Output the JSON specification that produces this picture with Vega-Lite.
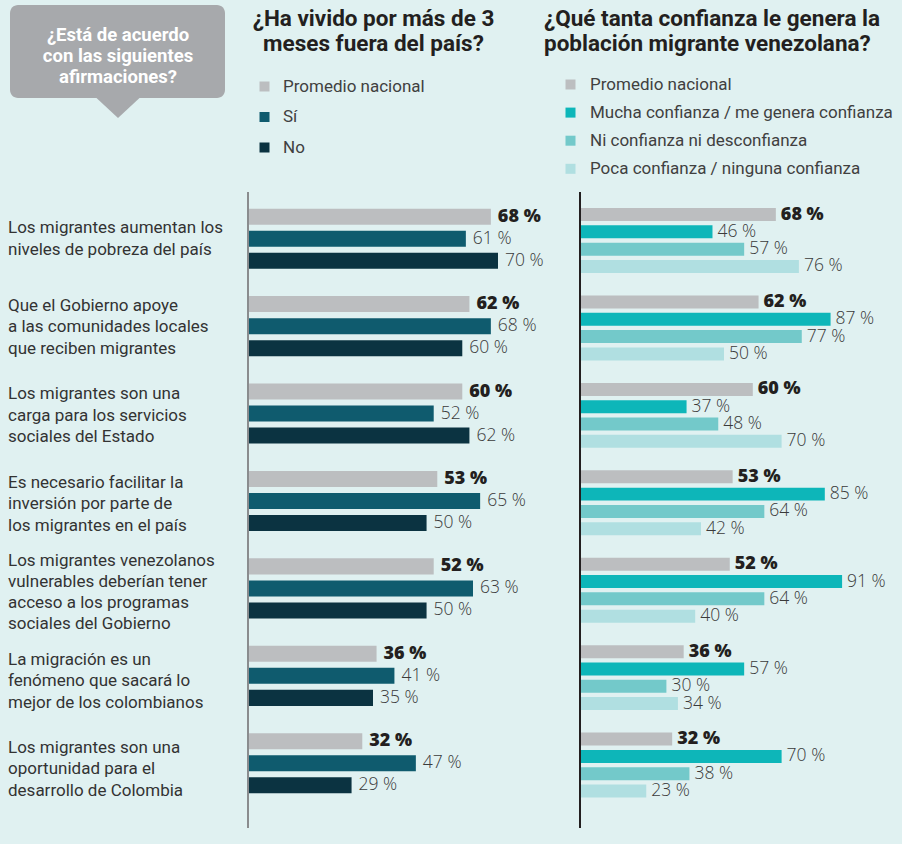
{
  "$schema": "https://vega.github.io/schema/vega-lite/v6.json",
  "background": "#e0f1f1",
  "padding": {"left": 8, "top": 5, "right": 0, "bottom": 16},
  "spacing": 0,
  "config": {"view": {"stroke": null}, "font": "Roboto", "concat": {"spacing": 0}},
  "resolve": {"scale": {"color": "independent", "x": "independent", "y": "independent", "yOffset": "independent"}, "legend": {"color": "independent"}},
  "datasets": {
    "afirmaciones": [
      {"id": 1, "texto": "Los migrantes aumentan los|niveles de pobreza del país"},
      {"id": 2, "texto": "Que el Gobierno apoye|a las comunidades locales|que reciben migrantes"},
      {"id": 3, "texto": "Los migrantes son una|carga para los servicios|sociales del Estado"},
      {"id": 4, "texto": "Es necesario facilitar la|inversión por parte de|los migrantes en el país"},
      {"id": 5, "texto": "Los migrantes venezolanos|vulnerables deberían tener|acceso a los programas|sociales del Gobierno"},
      {"id": 6, "texto": "La migración es un|fenómeno que sacará lo|mejor de los colombianos"},
      {"id": 7, "texto": "Los migrantes son una|oportunidad para el|desarrollo de Colombia"}
    ],
    "vivido": [
      {"id": 1, "serie": "Promedio nacional", "valor": 68},
      {"id": 1, "serie": "Sí", "valor": 61},
      {"id": 1, "serie": "No", "valor": 70},
      {"id": 2, "serie": "Promedio nacional", "valor": 62},
      {"id": 2, "serie": "Sí", "valor": 68},
      {"id": 2, "serie": "No", "valor": 60},
      {"id": 3, "serie": "Promedio nacional", "valor": 60},
      {"id": 3, "serie": "Sí", "valor": 52},
      {"id": 3, "serie": "No", "valor": 62},
      {"id": 4, "serie": "Promedio nacional", "valor": 53},
      {"id": 4, "serie": "Sí", "valor": 65},
      {"id": 4, "serie": "No", "valor": 50},
      {"id": 5, "serie": "Promedio nacional", "valor": 52},
      {"id": 5, "serie": "Sí", "valor": 63},
      {"id": 5, "serie": "No", "valor": 50},
      {"id": 6, "serie": "Promedio nacional", "valor": 36},
      {"id": 6, "serie": "Sí", "valor": 41},
      {"id": 6, "serie": "No", "valor": 35},
      {"id": 7, "serie": "Promedio nacional", "valor": 32},
      {"id": 7, "serie": "Sí", "valor": 47},
      {"id": 7, "serie": "No", "valor": 29}
    ],
    "confianza": [
      {"id": 1, "serie": "Promedio nacional", "valor": 68},
      {"id": 1, "serie": "Mucha confianza / me genera confianza", "valor": 46},
      {"id": 1, "serie": "Ni confianza ni desconfianza", "valor": 57},
      {"id": 1, "serie": "Poca confianza / ninguna confianza", "valor": 76},
      {"id": 2, "serie": "Promedio nacional", "valor": 62},
      {"id": 2, "serie": "Mucha confianza / me genera confianza", "valor": 87},
      {"id": 2, "serie": "Ni confianza ni desconfianza", "valor": 77},
      {"id": 2, "serie": "Poca confianza / ninguna confianza", "valor": 50},
      {"id": 3, "serie": "Promedio nacional", "valor": 60},
      {"id": 3, "serie": "Mucha confianza / me genera confianza", "valor": 37},
      {"id": 3, "serie": "Ni confianza ni desconfianza", "valor": 48},
      {"id": 3, "serie": "Poca confianza / ninguna confianza", "valor": 70},
      {"id": 4, "serie": "Promedio nacional", "valor": 53},
      {"id": 4, "serie": "Mucha confianza / me genera confianza", "valor": 85},
      {"id": 4, "serie": "Ni confianza ni desconfianza", "valor": 64},
      {"id": 4, "serie": "Poca confianza / ninguna confianza", "valor": 42},
      {"id": 5, "serie": "Promedio nacional", "valor": 52},
      {"id": 5, "serie": "Mucha confianza / me genera confianza", "valor": 91},
      {"id": 5, "serie": "Ni confianza ni desconfianza", "valor": 64},
      {"id": 5, "serie": "Poca confianza / ninguna confianza", "valor": 40},
      {"id": 6, "serie": "Promedio nacional", "valor": 36},
      {"id": 6, "serie": "Mucha confianza / me genera confianza", "valor": 57},
      {"id": 6, "serie": "Ni confianza ni desconfianza", "valor": 30},
      {"id": 6, "serie": "Poca confianza / ninguna confianza", "valor": 34},
      {"id": 7, "serie": "Promedio nacional", "valor": 32},
      {"id": 7, "serie": "Mucha confianza / me genera confianza", "valor": 70},
      {"id": 7, "serie": "Ni confianza ni desconfianza", "valor": 38},
      {"id": 7, "serie": "Poca confianza / ninguna confianza", "valor": 23}
    ]
  },
  "hconcat": [
    {
      "width": 239,
      "height": 636,
      "layer": [
        {
          "data": {"values": [{"pregunta": "¿Está de acuerdo|con las siguientes|afirmaciones?"}]},
          "layer": [
            {"mark": {"type": "rect", "color": "#a7a9ac", "cornerRadius": 8, "x": 2, "x2": 217, "y": -187, "y2": -94}, "encoding": {}},
            {"mark": {"type": "point", "shape": "M-1,-0.47L1,-0.47L0,0.47Z", "size": 1849, "filled": true, "opacity": 1, "color": "#a7a9ac", "x": 110, "y": -84}, "encoding": {}},
            {"mark": {"type": "text", "color": "#ffffff", "fontWeight": "bold", "fontSize": 18.5, "lineBreak": "|", "lineHeight": 21, "align": "center", "baseline": "middle", "x": 110, "y": -157}, "encoding": {"text": {"field": "pregunta"}}}
          ]
        },
        {
          "data": {"name": "afirmaciones"},
          "transform": [{"calculate": "length(split(datum.texto, '|'))", "as": "lineas"}],
          "encoding": {
            "y": {"field": "id", "type": "ordinal", "axis": null, "scale": {"type": "band", "paddingInner": 0, "paddingOuter": 0.0973, "align": 0.163}},
            "text": {"field": "texto"}
          },
          "layer": [
            {"transform": [{"filter": "datum.lineas == 2"}], "mark": {"type": "text", "align": "left", "baseline": "middle", "x": 0, "dy": -10.75, "lineBreak": "|", "lineHeight": 21.5, "fontSize": 17, "color": "#333333"}},
            {"transform": [{"filter": "datum.lineas == 3"}], "mark": {"type": "text", "align": "left", "baseline": "middle", "x": 0, "dy": -21.5, "lineBreak": "|", "lineHeight": 21.5, "fontSize": 17, "color": "#333333"}},
            {"transform": [{"filter": "datum.lineas == 4"}], "mark": {"type": "text", "align": "left", "baseline": "middle", "x": 0, "dy": -32, "lineBreak": "|", "lineHeight": 21.3, "fontSize": 17, "color": "#333333"}}
          ]
        }
      ]
    },
    {
      "width": 290,
      "height": 636,
      "title": {"text": ["¿Ha vivido por más de 3", "meses fuera del país?"], "frame": "group", "anchor": "start", "align": "center", "dx": 125.5, "dy": 1, "offset": 24, "fontSize": 22.5, "lineHeight": 25, "fontWeight": "bold", "color": "#231f20"},
      "data": {"name": "vivido"},
      "transform": [{"calculate": "datum.valor + ' %'", "as": "etiqueta"}],
      "layer": [
        {
          "mark": {"type": "bar"},
          "encoding": {
            "y": {"field": "id", "type": "ordinal", "axis": null, "scale": {"paddingInner": 0, "paddingOuter": 0.1375, "align": 0.125}},
            "yOffset": {"field": "serie", "type": "nominal", "sort": ["Promedio nacional", "Sí", "No"], "scale": {"paddingInner": 0.273, "paddingOuter": 0.62}},
            "x": {"field": "valor", "type": "quantitative", "axis": null, "scale": {"domain": [0, 81.2], "nice": false}},
            "color": {"field": "serie", "type": "nominal", "sort": ["Promedio nacional", "Sí", "No"],
              "scale": {"domain": ["Promedio nacional", "Sí", "No"], "range": ["#bcbec0", "#0f5b6e", "#0b3341"]},
              "legend": {"orient": "none", "legendX": 8, "legendY": -114, "title": null, "symbolType": "square", "symbolSize": 100, "symbolStrokeWidth": 0, "symbolOpacity": 1, "labelFontSize": 17, "labelColor": "#404040", "rowPadding": 12.5, "labelOffset": 10, "padding": 0, "direction": "vertical"}}
          }
        },
        {
          "transform": [{"filter": "datum.serie == 'Promedio nacional'"}],
          "mark": {"type": "text", "align": "left", "baseline": "middle", "dx": 7, "font": "Open Sans", "fontWeight": 800, "fontSize": 18, "color": "#231f20"},
          "encoding": {
            "y": {"field": "id", "type": "ordinal", "axis": null},
            "yOffset": {"field": "serie", "type": "nominal", "sort": ["Promedio nacional", "Sí", "No"]},
            "x": {"field": "valor", "type": "quantitative"},
            "text": {"field": "etiqueta"}
          }
        },
        {
          "transform": [{"filter": "datum.serie != 'Promedio nacional'"}],
          "mark": {"type": "text", "align": "left", "baseline": "middle", "dx": 7, "font": "Open Sans", "fontSize": 17.5, "fontWeight": 300, "color": "#3a3a3a"},
          "encoding": {
            "y": {"field": "id", "type": "ordinal", "axis": null},
            "yOffset": {"field": "serie", "type": "nominal", "sort": ["Promedio nacional", "Sí", "No"]},
            "x": {"field": "valor", "type": "quantitative"},
            "text": {"field": "etiqueta"}
          }
        },
        {
          "data": {"values": [{}]},
          "mark": {"type": "rule", "color": "#8a8c8e", "strokeWidth": 2},
          "encoding": {"x": {"datum": 0, "type": "quantitative"}}
        }
      ]
    },
    {
      "width": 322,
      "height": 636,
      "title": {"text": ["¿Qué tanta confianza le genera la", "población migrante venezolana?"], "frame": "group", "anchor": "start", "dx": -36, "dy": 1, "offset": 22, "fontSize": 22.5, "lineHeight": 25, "fontWeight": "bold", "color": "#231f20"},
      "data": {"name": "confianza"},
      "transform": [{"calculate": "datum.valor + ' %'", "as": "etiqueta"}],
      "layer": [
        {
          "mark": {"type": "bar"},
          "encoding": {
            "y": {"field": "id", "type": "ordinal", "axis": null, "scale": {"paddingInner": 0, "paddingOuter": 0.1375, "align": 0.125}},
            "yOffset": {"field": "serie", "type": "nominal", "sort": ["Promedio nacional", "Mucha confianza / me genera confianza", "Ni confianza ni desconfianza", "Poca confianza / ninguna confianza"], "scale": {"paddingInner": 0.25, "paddingOuter": 0.65, "align": 0.58}},
            "x": {"field": "valor", "type": "quantitative", "axis": null, "scale": {"domain": [0, 111.8], "nice": false}},
            "color": {"field": "serie", "type": "nominal", "sort": ["Promedio nacional", "Mucha confianza / me genera confianza", "Ni confianza ni desconfianza", "Poca confianza / ninguna confianza"],
              "scale": {"domain": ["Promedio nacional", "Mucha confianza / me genera confianza", "Ni confianza ni desconfianza", "Poca confianza / ninguna confianza"], "range": ["#bcbec0", "#0db6b9", "#73c9ca", "#b0dfe1"]},
              "legend": {"orient": "none", "legendX": -18, "legendY": -116, "title": null, "symbolType": "square", "symbolSize": 100, "symbolStrokeWidth": 0, "symbolOpacity": 1, "labelFontSize": 17, "labelColor": "#404040", "rowPadding": 10.1, "labelOffset": 11, "padding": 0, "direction": "vertical", "labelLimit": 400}}
          }
        },
        {
          "transform": [{"filter": "datum.serie == 'Promedio nacional'"}],
          "mark": {"type": "text", "align": "left", "baseline": "middle", "dx": 5, "font": "Open Sans", "fontWeight": 800, "fontSize": 18, "color": "#231f20"},
          "encoding": {
            "y": {"field": "id", "type": "ordinal", "axis": null},
            "yOffset": {"field": "serie", "type": "nominal", "sort": ["Promedio nacional", "Mucha confianza / me genera confianza", "Ni confianza ni desconfianza", "Poca confianza / ninguna confianza"]},
            "x": {"field": "valor", "type": "quantitative"},
            "text": {"field": "etiqueta"}
          }
        },
        {
          "transform": [{"filter": "datum.serie != 'Promedio nacional'"}],
          "mark": {"type": "text", "align": "left", "baseline": "middle", "dx": 5, "font": "Open Sans", "fontSize": 17.5, "fontWeight": 300, "color": "#3a3a3a"},
          "encoding": {
            "y": {"field": "id", "type": "ordinal", "axis": null},
            "yOffset": {"field": "serie", "type": "nominal", "sort": ["Promedio nacional", "Mucha confianza / me genera confianza", "Ni confianza ni desconfianza", "Poca confianza / ninguna confianza"]},
            "x": {"field": "valor", "type": "quantitative"},
            "text": {"field": "etiqueta"}
          }
        },
        {
          "data": {"values": [{}]},
          "mark": {"type": "rule", "color": "#231f20", "strokeWidth": 2},
          "encoding": {"x": {"datum": 0, "type": "quantitative"}}
        }
      ]
    }
  ]
}
